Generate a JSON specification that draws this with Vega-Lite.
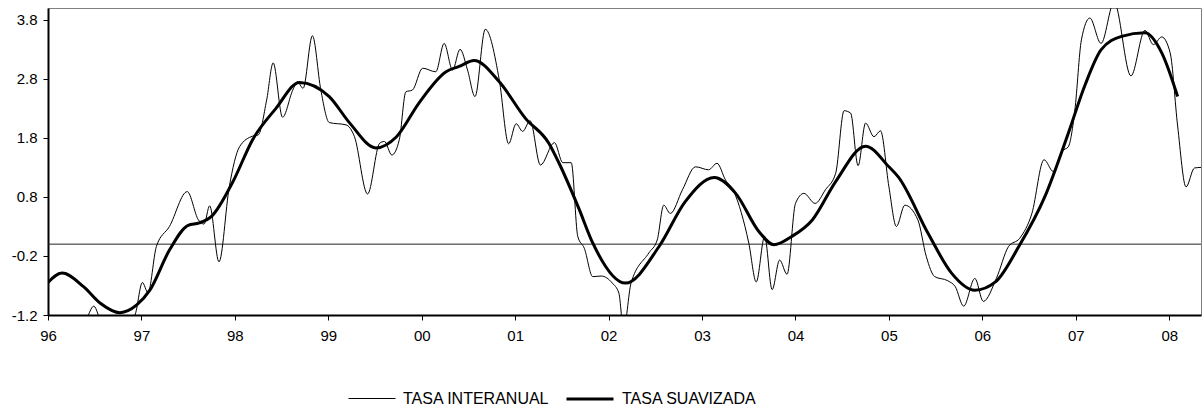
{
  "$schema": "https://vega.github.io/schema/vega-lite/v6.json",
  "width": 1153,
  "height": 307,
  "autosize": {"type": "none"},
  "padding": {"left": 48, "top": 8, "right": 2, "bottom": 97},
  "background": "white",
  "config": {
    "font": "Liberation Sans",
    "view": {"stroke": "#808080", "strokeWidth": 1},
    "axis": {"labelFontSize": 15, "labelColor": "#000", "domainColor": "#000", "domainWidth": 2, "tickColor": "#000", "tickSize": 5, "grid": false, "title": null}
  },
  "layer": [
    {
      "data": {"values": [{"z": 0}]},
      "mark": {"type": "rule", "color": "#222", "strokeWidth": 1},
      "encoding": {"y": {"field": "z", "type": "quantitative"}}
    },
    {
      "data": {"values": [
        {"t": 1996.00, "s": "TASA INTERANUAL", "v": -1.7},
        {"t": 1996.20, "s": "TASA INTERANUAL", "v": -1.5},
        {"t": 1996.40, "s": "TASA INTERANUAL", "v": -1.3},
        {"t": 1996.49, "s": "TASA INTERANUAL", "v": -1.05},
        {"t": 1996.58, "s": "TASA INTERANUAL", "v": -1.35},
        {"t": 1996.75, "s": "TASA INTERANUAL", "v": -1.45},
        {"t": 1996.93, "s": "TASA INTERANUAL", "v": -1.2},
        {"t": 1997.01, "s": "TASA INTERANUAL", "v": -0.65},
        {"t": 1997.07, "s": "TASA INTERANUAL", "v": -0.82},
        {"t": 1997.16, "s": "TASA INTERANUAL", "v": -0.04},
        {"t": 1997.30, "s": "TASA INTERANUAL", "v": 0.30},
        {"t": 1997.49, "s": "TASA INTERANUAL", "v": 0.89},
        {"t": 1997.61, "s": "TASA INTERANUAL", "v": 0.41},
        {"t": 1997.67, "s": "TASA INTERANUAL", "v": 0.34},
        {"t": 1997.73, "s": "TASA INTERANUAL", "v": 0.65},
        {"t": 1997.83, "s": "TASA INTERANUAL", "v": -0.30},
        {"t": 1997.94, "s": "TASA INTERANUAL", "v": 0.97},
        {"t": 1998.05, "s": "TASA INTERANUAL", "v": 1.65},
        {"t": 1998.19, "s": "TASA INTERANUAL", "v": 1.83},
        {"t": 1998.25, "s": "TASA INTERANUAL", "v": 1.85},
        {"t": 1998.34, "s": "TASA INTERANUAL", "v": 2.44},
        {"t": 1998.41, "s": "TASA INTERANUAL", "v": 3.07},
        {"t": 1998.51, "s": "TASA INTERANUAL", "v": 2.15},
        {"t": 1998.62, "s": "TASA INTERANUAL", "v": 2.61},
        {"t": 1998.67, "s": "TASA INTERANUAL", "v": 2.75},
        {"t": 1998.73, "s": "TASA INTERANUAL", "v": 2.64},
        {"t": 1998.83, "s": "TASA INTERANUAL", "v": 3.53},
        {"t": 1998.92, "s": "TASA INTERANUAL", "v": 2.61},
        {"t": 1999.01, "s": "TASA INTERANUAL", "v": 2.06},
        {"t": 1999.19, "s": "TASA INTERANUAL", "v": 2.02},
        {"t": 1999.28, "s": "TASA INTERANUAL", "v": 1.82},
        {"t": 1999.42, "s": "TASA INTERANUAL", "v": 0.85},
        {"t": 1999.55, "s": "TASA INTERANUAL", "v": 1.71},
        {"t": 1999.60, "s": "TASA INTERANUAL", "v": 1.74},
        {"t": 1999.68, "s": "TASA INTERANUAL", "v": 1.51},
        {"t": 1999.76, "s": "TASA INTERANUAL", "v": 1.77},
        {"t": 1999.83, "s": "TASA INTERANUAL", "v": 2.58},
        {"t": 1999.90, "s": "TASA INTERANUAL", "v": 2.61},
        {"t": 2000.01, "s": "TASA INTERANUAL", "v": 2.98},
        {"t": 2000.15, "s": "TASA INTERANUAL", "v": 2.92},
        {"t": 2000.24, "s": "TASA INTERANUAL", "v": 3.40},
        {"t": 2000.33, "s": "TASA INTERANUAL", "v": 2.95},
        {"t": 2000.41, "s": "TASA INTERANUAL", "v": 3.30},
        {"t": 2000.49, "s": "TASA INTERANUAL", "v": 2.95},
        {"t": 2000.57, "s": "TASA INTERANUAL", "v": 2.50},
        {"t": 2000.68, "s": "TASA INTERANUAL", "v": 3.64},
        {"t": 2000.83, "s": "TASA INTERANUAL", "v": 2.78},
        {"t": 2000.93, "s": "TASA INTERANUAL", "v": 1.70},
        {"t": 2001.01, "s": "TASA INTERANUAL", "v": 2.04},
        {"t": 2001.08, "s": "TASA INTERANUAL", "v": 1.91},
        {"t": 2001.16, "s": "TASA INTERANUAL", "v": 2.09},
        {"t": 2001.27, "s": "TASA INTERANUAL", "v": 1.34},
        {"t": 2001.42, "s": "TASA INTERANUAL", "v": 1.72},
        {"t": 2001.51, "s": "TASA INTERANUAL", "v": 1.38},
        {"t": 2001.60, "s": "TASA INTERANUAL", "v": 1.38},
        {"t": 2001.67, "s": "TASA INTERANUAL", "v": 0.13},
        {"t": 2001.74, "s": "TASA INTERANUAL", "v": -0.07},
        {"t": 2001.83, "s": "TASA INTERANUAL", "v": -0.55},
        {"t": 2001.92, "s": "TASA INTERANUAL", "v": -0.54},
        {"t": 2002.04, "s": "TASA INTERANUAL", "v": -0.66},
        {"t": 2002.11, "s": "TASA INTERANUAL", "v": -0.83},
        {"t": 2002.16, "s": "TASA INTERANUAL", "v": -1.45},
        {"t": 2002.24, "s": "TASA INTERANUAL", "v": -0.66},
        {"t": 2002.43, "s": "TASA INTERANUAL", "v": -0.15},
        {"t": 2002.52, "s": "TASA INTERANUAL", "v": 0.07},
        {"t": 2002.59, "s": "TASA INTERANUAL", "v": 0.66},
        {"t": 2002.66, "s": "TASA INTERANUAL", "v": 0.52},
        {"t": 2002.79, "s": "TASA INTERANUAL", "v": 0.92},
        {"t": 2002.93, "s": "TASA INTERANUAL", "v": 1.31},
        {"t": 2003.07, "s": "TASA INTERANUAL", "v": 1.26},
        {"t": 2003.16, "s": "TASA INTERANUAL", "v": 1.37},
        {"t": 2003.25, "s": "TASA INTERANUAL", "v": 1.09},
        {"t": 2003.34, "s": "TASA INTERANUAL", "v": 0.89},
        {"t": 2003.50, "s": "TASA INTERANUAL", "v": 0.02},
        {"t": 2003.58, "s": "TASA INTERANUAL", "v": -0.64},
        {"t": 2003.67, "s": "TASA INTERANUAL", "v": 0.13},
        {"t": 2003.75, "s": "TASA INTERANUAL", "v": -0.77},
        {"t": 2003.83, "s": "TASA INTERANUAL", "v": -0.27},
        {"t": 2003.91, "s": "TASA INTERANUAL", "v": -0.51},
        {"t": 2004.00, "s": "TASA INTERANUAL", "v": 0.69},
        {"t": 2004.09, "s": "TASA INTERANUAL", "v": 0.86},
        {"t": 2004.21, "s": "TASA INTERANUAL", "v": 0.69},
        {"t": 2004.32, "s": "TASA INTERANUAL", "v": 0.92},
        {"t": 2004.43, "s": "TASA INTERANUAL", "v": 1.20},
        {"t": 2004.52, "s": "TASA INTERANUAL", "v": 2.26},
        {"t": 2004.59, "s": "TASA INTERANUAL", "v": 2.22},
        {"t": 2004.67, "s": "TASA INTERANUAL", "v": 1.33},
        {"t": 2004.75, "s": "TASA INTERANUAL", "v": 2.05},
        {"t": 2004.84, "s": "TASA INTERANUAL", "v": 1.82},
        {"t": 2004.91, "s": "TASA INTERANUAL", "v": 1.92},
        {"t": 2005.00, "s": "TASA INTERANUAL", "v": 0.97},
        {"t": 2005.08, "s": "TASA INTERANUAL", "v": 0.30},
        {"t": 2005.17, "s": "TASA INTERANUAL", "v": 0.66},
        {"t": 2005.31, "s": "TASA INTERANUAL", "v": 0.41},
        {"t": 2005.40, "s": "TASA INTERANUAL", "v": -0.21},
        {"t": 2005.49, "s": "TASA INTERANUAL", "v": -0.55},
        {"t": 2005.63, "s": "TASA INTERANUAL", "v": -0.62},
        {"t": 2005.71, "s": "TASA INTERANUAL", "v": -0.72},
        {"t": 2005.80, "s": "TASA INTERANUAL", "v": -1.05},
        {"t": 2005.92, "s": "TASA INTERANUAL", "v": -0.58},
        {"t": 2006.01, "s": "TASA INTERANUAL", "v": -0.97},
        {"t": 2006.15, "s": "TASA INTERANUAL", "v": -0.58},
        {"t": 2006.28, "s": "TASA INTERANUAL", "v": -0.04},
        {"t": 2006.40, "s": "TASA INTERANUAL", "v": 0.10},
        {"t": 2006.53, "s": "TASA INTERANUAL", "v": 0.52},
        {"t": 2006.66, "s": "TASA INTERANUAL", "v": 1.43},
        {"t": 2006.76, "s": "TASA INTERANUAL", "v": 1.23},
        {"t": 2006.85, "s": "TASA INTERANUAL", "v": 1.57},
        {"t": 2006.92, "s": "TASA INTERANUAL", "v": 1.65},
        {"t": 2006.99, "s": "TASA INTERANUAL", "v": 2.27},
        {"t": 2007.06, "s": "TASA INTERANUAL", "v": 3.46},
        {"t": 2007.15, "s": "TASA INTERANUAL", "v": 3.83},
        {"t": 2007.27, "s": "TASA INTERANUAL", "v": 3.40},
        {"t": 2007.41, "s": "TASA INTERANUAL", "v": 4.10},
        {"t": 2007.59, "s": "TASA INTERANUAL", "v": 2.85},
        {"t": 2007.74, "s": "TASA INTERANUAL", "v": 3.62},
        {"t": 2007.83, "s": "TASA INTERANUAL", "v": 3.38},
        {"t": 2007.92, "s": "TASA INTERANUAL", "v": 3.51},
        {"t": 2008.01, "s": "TASA INTERANUAL", "v": 3.24},
        {"t": 2008.09, "s": "TASA INTERANUAL", "v": 2.00},
        {"t": 2008.18, "s": "TASA INTERANUAL", "v": 0.97},
        {"t": 2008.27, "s": "TASA INTERANUAL", "v": 1.29},
        {"t": 2008.34, "s": "TASA INTERANUAL", "v": 1.30},
        {"t": 1996.00, "s": "TASA SUAVIZADA", "v": -0.65},
        {"t": 1996.15, "s": "TASA SUAVIZADA", "v": -0.49},
        {"t": 1996.38, "s": "TASA SUAVIZADA", "v": -0.72},
        {"t": 1996.56, "s": "TASA SUAVIZADA", "v": -1.00},
        {"t": 1996.77, "s": "TASA SUAVIZADA", "v": -1.16},
        {"t": 1996.95, "s": "TASA SUAVIZADA", "v": -1.03},
        {"t": 1997.09, "s": "TASA SUAVIZADA", "v": -0.78},
        {"t": 1997.30, "s": "TASA SUAVIZADA", "v": -0.10},
        {"t": 1997.50, "s": "TASA SUAVIZADA", "v": 0.32},
        {"t": 1997.62, "s": "TASA SUAVIZADA", "v": 0.36},
        {"t": 1997.75, "s": "TASA SUAVIZADA", "v": 0.47},
        {"t": 1997.98, "s": "TASA SUAVIZADA", "v": 1.06},
        {"t": 1998.19, "s": "TASA SUAVIZADA", "v": 1.77},
        {"t": 1998.44, "s": "TASA SUAVIZADA", "v": 2.30},
        {"t": 1998.69, "s": "TASA SUAVIZADA", "v": 2.74},
        {"t": 1999.01, "s": "TASA SUAVIZADA", "v": 2.50},
        {"t": 1999.23, "s": "TASA SUAVIZADA", "v": 2.05},
        {"t": 1999.51, "s": "TASA SUAVIZADA", "v": 1.63},
        {"t": 1999.73, "s": "TASA SUAVIZADA", "v": 1.82},
        {"t": 1999.97, "s": "TASA SUAVIZADA", "v": 2.39},
        {"t": 2000.26, "s": "TASA SUAVIZADA", "v": 2.92},
        {"t": 2000.40, "s": "TASA SUAVIZADA", "v": 3.01},
        {"t": 2000.56, "s": "TASA SUAVIZADA", "v": 3.11},
        {"t": 2000.83, "s": "TASA SUAVIZADA", "v": 2.75},
        {"t": 2001.11, "s": "TASA SUAVIZADA", "v": 2.13},
        {"t": 2001.36, "s": "TASA SUAVIZADA", "v": 1.71},
        {"t": 2001.47, "s": "TASA SUAVIZADA", "v": 1.37},
        {"t": 2001.68, "s": "TASA SUAVIZADA", "v": 0.61},
        {"t": 2001.83, "s": "TASA SUAVIZADA", "v": 0.02},
        {"t": 2002.18, "s": "TASA SUAVIZADA", "v": -0.66},
        {"t": 2002.54, "s": "TASA SUAVIZADA", "v": -0.04},
        {"t": 2002.82, "s": "TASA SUAVIZADA", "v": 0.72},
        {"t": 2003.13, "s": "TASA SUAVIZADA", "v": 1.13},
        {"t": 2003.36, "s": "TASA SUAVIZADA", "v": 0.86},
        {"t": 2003.61, "s": "TASA SUAVIZADA", "v": 0.21},
        {"t": 2003.77, "s": "TASA SUAVIZADA", "v": -0.01},
        {"t": 2003.96, "s": "TASA SUAVIZADA", "v": 0.13},
        {"t": 2004.18, "s": "TASA SUAVIZADA", "v": 0.41},
        {"t": 2004.43, "s": "TASA SUAVIZADA", "v": 1.06},
        {"t": 2004.75, "s": "TASA SUAVIZADA", "v": 1.66},
        {"t": 2005.00, "s": "TASA SUAVIZADA", "v": 1.31},
        {"t": 2005.10, "s": "TASA SUAVIZADA", "v": 1.14},
        {"t": 2005.42, "s": "TASA SUAVIZADA", "v": 0.18},
        {"t": 2005.67, "s": "TASA SUAVIZADA", "v": -0.49},
        {"t": 2005.92, "s": "TASA SUAVIZADA", "v": -0.78},
        {"t": 2006.14, "s": "TASA SUAVIZADA", "v": -0.64},
        {"t": 2006.39, "s": "TASA SUAVIZADA", "v": -0.04},
        {"t": 2006.67, "s": "TASA SUAVIZADA", "v": 0.81},
        {"t": 2006.92, "s": "TASA SUAVIZADA", "v": 1.88},
        {"t": 2007.10, "s": "TASA SUAVIZADA", "v": 2.70},
        {"t": 2007.27, "s": "TASA SUAVIZADA", "v": 3.29},
        {"t": 2007.49, "s": "TASA SUAVIZADA", "v": 3.52},
        {"t": 2007.74, "s": "TASA SUAVIZADA", "v": 3.58},
        {"t": 2007.92, "s": "TASA SUAVIZADA", "v": 3.24},
        {"t": 2008.09, "s": "TASA SUAVIZADA", "v": 2.50}
      ]},
      "mark": {"type": "line", "clip": true, "interpolate": "monotone"},
      "encoding": {
        "x": {
          "field": "t", "type": "quantitative",
          "scale": {"domain": [1996, 2008.34], "nice": false, "zero": false},
          "axis": {"values": [1996, 1997, 1998, 1999, 2000, 2001, 2002, 2003, 2004, 2005, 2006, 2007, 2008], "labelExpr": "substring('' + datum.value, 2, 4)", "labelPadding": 8, "labelFlush": false, "labelOverlap": false}
        },
        "y": {
          "field": "v", "type": "quantitative",
          "scale": {"domain": [-1.2, 4.0], "nice": false, "zero": false},
          "axis": {"values": [-1.2, -0.2, 0.8, 1.8, 2.8, 3.8], "format": ".1f", "labelExpr": "replace(datum.label, '\u2212', '-')", "labelPadding": 6}
        },
        "color": {
          "field": "s", "type": "nominal",
          "scale": {"domain": ["TASA INTERANUAL", "TASA SUAVIZADA"], "range": ["#000000", "#000000"]},
          "legend": {
            "title": null, "orient": "none", "direction": "horizontal",
            "legendX": 300, "legendY": 366,
            "symbolType": "stroke", "symbolSize": 2209, "symbolStrokeColor": "#000",
            "labelFontSize": 16, "labelColor": "#000", "labelOffset": 7,
            "columnPadding": 10, "padding": 0
          }
        },
        "strokeWidth": {
          "field": "s", "type": "nominal",
          "scale": {"domain": ["TASA INTERANUAL", "TASA SUAVIZADA"], "range": [1, 3]},
          "legend": {
            "title": null, "orient": "none", "direction": "horizontal",
            "legendX": 300, "legendY": 366,
            "symbolType": "stroke", "symbolSize": 2209, "symbolStrokeColor": "#000",
            "labelFontSize": 16, "labelColor": "#000", "labelOffset": 7,
            "columnPadding": 10, "padding": 0
          }
        }
      }
    }
  ]
}
